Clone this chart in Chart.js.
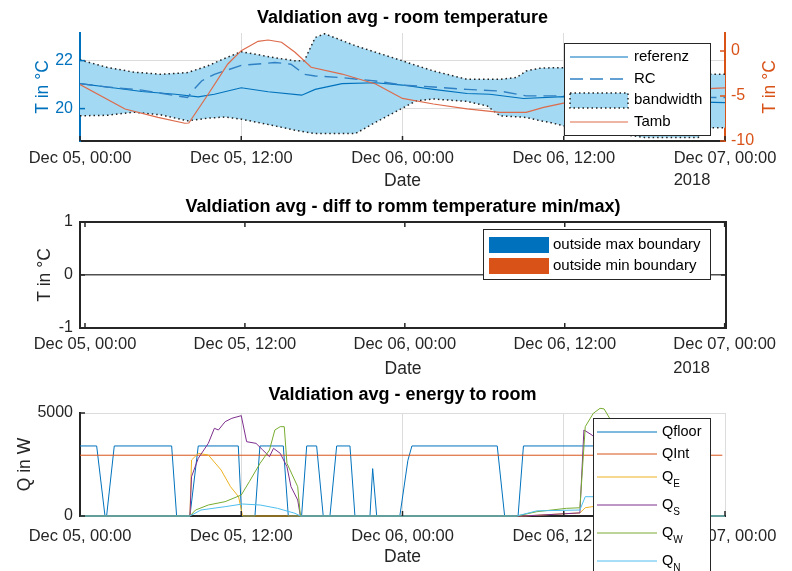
<!DOCTYPE html>
<html>
<head>
<meta charset="utf-8">
<script src="https://cdn.jsdelivr.net/npm/chart.js@4.4.1/dist/chart.umd.min.js"></script>
<style>
  html, body { margin: 0; padding: 0; background: #fff; }
  body { width: 792px; height: 571px; position: relative; overflow: hidden; }
  canvas { position: absolute; left: 0; }
</style>
</head>
<body>
<canvas id="temp" width="792" height="190" style="top:0"></canvas>
<canvas id="diff" width="792" height="190" style="top:190px"></canvas>
<canvas id="energy" width="792" height="191" style="top:380px"></canvas>
<script>
const FONT = "'Liberation Sans', Arial, Helvetica, sans-serif";
Chart.defaults.font.family = FONT;
Chart.defaults.color = '#262626';
Chart.defaults.animation = false;

// x axis: hours since Dec 05 00:00
const xTickHours = [0, 12, 24, 36, 48];
const xTickLabels = ['Dec 05, 00:00', 'Dec 05, 12:00', 'Dec 06, 00:00', 'Dec 06, 12:00', 'Dec 07, 00:00'];
const yearLabel = '2018';

// --- room temperature ---
const tempNames = ['referenz', 'RC', 'bandwidth', 'Tamb'];
const tempTicks = [20, 22];
const ambTicks = [-10, -5, 0];

const bandHours = [0, 2, 4, 6, 8, 9.5, 10.8, 12, 14.5, 16, 16.7, 17.5, 18.2, 20.5, 22, 24, 25, 26.3, 28.8, 30.3, 31.25, 32.5, 33.2, 34.2, 35, 36, 38, 40, 42, 44, 46, 47, 48];
const bandUpper = [22.03, 21.72, 21.52, 21.43, 21.5, 21.78, 22.1, 22.37, 22.12, 21.99, 22.0, 22.96, 23.12, 22.62, 22.35, 21.99, 21.8, 21.57, 21.22, 21.22, 21.22, 21.3, 21.57, 21.68, 21.7, 21.7, 21.7, 21.62, 21.55, 21.5, 21.45, 21.43, 21.43];
const bandLower = [19.7, 19.72, 19.85, 19.74, 19.49, 19.6, 19.65, 19.56, 19.28, 19.1, 19.03, 18.96, 18.96, 18.96, 19.43, 20.02, 20.32, 20.4, 20.3, 20.11, 19.7, 19.66, 19.63, 19.5, 19.42, 19.28, 19.1, 18.95, 18.8, 18.8, 18.8, 19.2, 19.2];

const refHours = [0, 2, 4.6, 7.1, 8.8, 10, 12, 14, 16.5, 17.5, 19.5, 22, 24, 26.3, 28.8, 30.5, 33, 36, 40, 44, 48];
const refTemp = [21.04, 20.9, 20.71, 20.6, 20.49, 20.6, 20.87, 20.7, 20.56, 20.8, 21.04, 21.08, 20.98, 20.8, 20.63, 20.6, 20.42, 20.5, 20.4, 20.3, 20.25];

const rcHours = [0, 2, 4.6, 8, 8.4, 9.05, 10, 12, 14.5, 15.7, 16.7, 17.5, 19.5, 22, 24, 26.3, 28.8, 31.25, 33.2, 36, 40, 44, 48];
const rcTemp = [21.04, 20.9, 20.77, 20.46, 20.75, 21.15, 21.43, 21.8, 21.92, 21.85, 21.43, 21.36, 21.29, 21.15, 20.98, 20.9, 20.8, 20.73, 20.53, 20.53, 20.5, 20.48, 20.46];

const ambHours = [0, 3.35, 5.8, 7.8, 8.1, 9.55, 11, 12, 13.25, 14, 15, 16, 17.2, 19.5, 22, 24, 26.3, 28.8, 31.25, 33.2, 34.5, 35.9, 38, 42, 45, 48];
const ambTemp = [-3.73, -6.44, -7.37, -8.03, -8.0, -4.78, -1.44, 0.04, 1.08, 1.22, 0.97, -0.14, -1.81, -2.56, -3.67, -5.27, -5.89, -6.44, -6.81, -6.81, -6.26, -5.81, -5.2, -4.6, -4.3, -4.1];

// --- diff to min/max (all zero) ---
const diffNames = ['outside max boundary', 'outside min boundary'];
const diffTicks = [-1, 0, 1];
const diffHours = [0, 2, 4, 6, 8, 10, 12, 14, 16, 18, 20, 22, 24, 26, 28, 30, 32, 34, 36, 38, 40, 42, 44, 46, 48];
const diffMax = [0, 0, 0, 0, 0, 0, 0, 0, 0, 0, 0, 0, 0, 0, 0, 0, 0, 0, 0, 0, 0, 0, 0, 0, 0];
const diffMin = [0, 0, 0, 0, 0, 0, 0, 0, 0, 0, 0, 0, 0, 0, 0, 0, 0, 0, 0, 0, 0, 0, 0, 0, 0];

// --- energy to room ---
const energyNames = ['Qfloor', 'QInt', 'Q_E', 'Q_S', 'Q_W', 'Q_N'];
const energyTicks = [0, 5000];

const floorHours = [0, 1.24, 1.86, 1.98, 2.55, 6.82, 7.19, 8.18, 8.8, 11.78, 12.03, 13.02, 13.39, 15.13, 15.5, 16.49, 16.87, 17.61, 18.1, 18.6, 19.1, 20.09, 20.46, 21.58, 21.78, 22.08, 23.8, 24.4, 24.7, 31.05, 31.6, 32.6, 33.0, 43.8, 44.3, 48];
const floorQ = [3400, 3400, 0, 0, 3400, 3400, 0, 0, 3400, 3400, 0, 0, 3400, 3400, 0, 0, 3400, 3400, 0, 0, 3400, 3400, 0, 0, 2300, 0, 0, 2700, 3400, 3400, 0, 0, 3400, 3400, 0, 0];

const intHours = [0, 47.8];
const intQ = [2950, 2950];

const eastHours = [0, 8.18, 8.3, 8.8, 9.55, 10.5, 11.2, 11.8, 12.1, 33, 37.2, 37.6, 38.6, 40, 42, 48];
const eastQ = [0, 0, 2718, 3040, 2961, 2233, 1424, 937, 0, 0, 150, 400, 500, 300, 0, 0];

const southHours = [0, 8.18, 8.3, 8.8, 9.55, 10.0, 10.3, 10.8, 11.3, 12.0, 12.4, 13.1, 13.6, 14.1, 14.4, 14.9, 15.4, 15.7, 16.2, 16.4, 33.0, 37.2, 37.5, 38.1, 39.5, 41, 43, 48];
const southQ = [0, 0, 1908, 2800, 3529, 4257, 4175, 4578, 4743, 4870, 3607, 3527, 3204, 2880, 3285, 3042, 2395, 1424, 777, 0, 0, 150, 4175, 3930, 3000, 1500, 0, 0];

const westHours = [0, 8.18, 8.6, 9.55, 10.8, 12.0, 12.6, 13.4, 14.1, 14.5, 14.9, 15.2, 15.4, 16.2, 16.4, 32.5, 34.0, 36.2, 37.2, 37.6, 38.2, 38.7, 39.0, 41, 43, 48];
const westQ = [0, 0, 291, 534, 696, 1019, 1666, 2557, 3204, 4175, 4337, 4337, 2557, 1424, 0, 0, 210, 372, 400, 4337, 4985, 5227, 5200, 3000, 0, 0];

const northHours = [0, 8.18, 9, 10.8, 12.1, 13.4, 14.7, 16, 16.4, 32.5, 34, 37.2, 37.6, 38.2, 40, 43, 48];
const northQ = [0, 0, 291, 453, 582, 534, 372, 129, 0, 0, 250, 291, 937, 937, 600, 0, 0];

// colours (matlab default order)
const BLUE = '#0072BD', ORANGE = '#D95319', YELLOW = '#EDB120', PURPLE = '#7E2F8E', GREEN = '#77AC30', CYAN = '#4DBEEE';
const BAND = '#a3d9f2';
const GRID = '#dcdcdc';
const INK = '#262626';

const pts = (xs, ys) => xs.map((x, i) => ({ x, y: ys[i] }));
const fixW = w => s => { s.width = w; };
const fixH = h => s => { s.height = h; };
const setTicks = vals => s => { s.ticks = vals.map(v => ({ value: v })); };
const xLabel = v => xTickLabels[xTickHours.indexOf(v)];
const plain = v => String(v);

// ticks pointing into the plot, like matlab
const innerTicks = {
    id: 'innerTicks',
    afterDatasetsDraw(chart, args, o) {
        if (!o.items) return;
        const { ctx, chartArea: a } = chart;
        ctx.save();
        ctx.lineWidth = 1.5;
        o.items.forEach(it => {
            const s = chart.scales[it.scale];
            ctx.strokeStyle = it.color || INK;
            s.ticks.forEach(t => {
                const p = s.getPixelForValue(t.value);
                ctx.beginPath();
                if (it.side === 'bottom') { ctx.moveTo(p, a.bottom); ctx.lineTo(p, a.bottom - o.len); }
                if (it.side === 'top') { ctx.moveTo(p, a.top); ctx.lineTo(p, a.top + o.len); }
                if (it.side === 'left') { ctx.moveTo(a.left, p); ctx.lineTo(a.left + o.len, p); }
                if (it.side === 'right') { ctx.moveTo(a.right, p); ctx.lineTo(a.right - o.len, p); }
                ctx.stroke();
            });
        });
        if (o.frame) {
            ctx.strokeStyle = INK;
            ctx.lineWidth = 2;
            ctx.beginPath();
            ctx.moveTo(a.left, a.top); ctx.lineTo(a.right, a.top); ctx.lineTo(a.right, a.bottom);
            ctx.stroke();
        }
        ctx.restore();
    }
};

// year under the last date label, left aligned with it
const yearTag = {
    id: 'yearTag',
    afterDraw(chart, args, o) {
        if (!o.text) return;
        const s = chart.scales.x, ctx = chart.ctx;
        ctx.save();
        ctx.font = o.font;
        const w = ctx.measureText(xTickLabels[xTickLabels.length - 1]).width;
        ctx.fillStyle = INK;
        ctx.textAlign = 'left';
        ctx.textBaseline = 'middle';
        ctx.fillText(o.text, s.getPixelForValue(xTickHours[xTickHours.length - 1]) - w / 2, o.y);
        ctx.restore();
    }
};

// right y label reading bottom to top
const sideTitle = {
    id: 'sideTitle',
    afterDraw(chart, args, o) {
        if (!o.text) return;
        const ctx = chart.ctx;
        ctx.save();
        ctx.translate(o.x, o.y);
        ctx.rotate(-Math.PI / 2);
        ctx.font = o.font;
        ctx.fillStyle = o.color;
        ctx.textAlign = 'center';
        ctx.textBaseline = 'middle';
        ctx.fillText(o.text, 0, 0);
        ctx.restore();
    }
};

// boxed legend inside the axes
const boxLegend = {
    id: 'boxLegend',
    afterDraw(chart, args, o) {
        if (!o.items) return;
        const ctx = chart.ctx;
        ctx.save();
        ctx.fillStyle = '#fff';
        ctx.fillRect(o.x, o.y, o.w, o.h);
        ctx.strokeStyle = INK;
        ctx.lineWidth = 1;
        ctx.strokeRect(o.x + 0.5, o.y + 0.5, o.w, o.h);
        o.items.forEach((it, i) => {
            const y = o.rows[i];
            if (it.kind === 'patch') {
                ctx.fillStyle = it.color;
                ctx.fillRect(o.sampleX, y - 8, o.sampleW, 16);
            } else if (it.kind === 'band') {
                ctx.fillStyle = it.fill;
                ctx.fillRect(o.sampleX, y - 7, o.sampleW, 15);
                ctx.setLineDash(it.dash);
                ctx.strokeStyle = it.color;
                ctx.lineWidth = 1.5;
                ctx.strokeRect(o.sampleX, y - 7, o.sampleW, 15);
                ctx.setLineDash([]);
            } else {
                ctx.setLineDash(it.dash || []);
                ctx.strokeStyle = it.color;
                ctx.lineWidth = it.width || 1;
                ctx.beginPath();
                ctx.moveTo(o.sampleX, y); ctx.lineTo(o.sampleX + o.sampleW, y);
                ctx.stroke();
                ctx.setLineDash([]);
            }
            const [main, sub] = it.text.split('_');
            ctx.font = o.font;
            ctx.fillStyle = '#000';
            ctx.textAlign = 'left';
            ctx.textBaseline = 'middle';
            ctx.fillText(main, o.textX, y);
            if (sub) {
                const w = ctx.measureText(main).width;
                ctx.font = o.subFont;
                ctx.fillText(sub, o.textX + w, y + 7);
            }
        });
        ctx.restore();
    }
};

const xAxis = (min, max, h, pad, titlePad) => ({
    type: 'linear', min, max,
    afterBuildTicks: setTicks(xTickHours),
    afterFit: fixH(h),
    ticks: { font: { size: 16.5 }, padding: pad, maxRotation: 0, autoSkip: false, callback: xLabel },
    grid: { color: GRID, drawTicks: false },
    border: { color: INK, width: 2 },
    title: { display: true, text: 'Date', font: { size: 17.5 }, padding: { top: 0, bottom: titlePad } }
});

const titleOpts = (text, top, bottom) => ({
    display: true, text, color: '#000', fullSize: false,
    font: { size: 18, weight: 'bold' }, padding: { top, bottom }
});

// ---------- chart 1: room temperature ----------
new Chart(document.getElementById('temp'), {
    type: 'line',
    data: {
        datasets: [
            { label: tempNames[0], data: pts(refHours, refTemp), yAxisID: 'y', borderColor: BLUE, borderWidth: 1.1, order: 2 },
            { label: tempNames[1], data: pts(rcHours, rcTemp), yAxisID: 'y', borderColor: '#2f80c4', borderWidth: 1.4, borderDash: [13, 7], order: 1 },
            { label: tempNames[2], data: pts(bandHours, bandUpper), yAxisID: 'y', borderColor: '#222', borderWidth: 1.5, borderDash: [1.5, 3], backgroundColor: BAND, fill: '+1', order: 5 },
            { label: tempNames[2] + ' min', data: pts(bandHours, bandLower), yAxisID: 'y', borderColor: '#222', borderWidth: 1.5, borderDash: [1.5, 3], fill: false, order: 4 },
            { label: tempNames[3], data: pts(ambHours, ambTemp), yAxisID: 'y1', borderColor: '#dd6a4a', borderWidth: 1.2, order: 0 }
        ]
    },
    options: {
        responsive: false,
        events: [],
        elements: { point: { radius: 0 }, line: { tension: 0 } },
        layout: { padding: 0 },
        scales: {
            x: xAxis(0, 48, 49, 8, -2),
            y: {
                position: 'left', min: 18.65, max: 23.15,
                afterBuildTicks: setTicks(tempTicks), afterFit: fixW(80),
                ticks: { color: BLUE, font: { size: 16 }, padding: 7, callback: plain },
                grid: { color: GRID, drawTicks: false },
                border: { color: BLUE, width: 2 },
                title: { display: true, text: 'T in °C', color: BLUE, font: { size: 17.5 }, padding: { top: 32.5, bottom: 0 } }
            },
            y1: {
                position: 'right', min: -10, max: 2,
                afterBuildTicks: setTicks(ambTicks), afterFit: fixW(67),
                ticks: { color: ORANGE, font: { size: 16 }, padding: 6, callback: plain },
                grid: { display: false, drawTicks: false },
                border: { color: ORANGE, width: 2 }
            }
        },
        plugins: {
            legend: { display: false },
            tooltip: { enabled: false },
            title: titleOpts('Valdiation avg - room temperature', 7.7, 3.7),
            innerTicks: { len: 5, items: [
                { scale: 'x', side: 'bottom' },
                { scale: 'y', side: 'left', color: BLUE },
                { scale: 'y1', side: 'right', color: ORANGE }
            ] },
            yearTag: { text: yearLabel, y: 180, font: '16.5px ' + FONT },
            sideTitle: { text: 'T in °C', x: 770, y: 87, color: ORANGE, font: '17.5px ' + FONT },
            boxLegend: {
                x: 564, y: 43, w: 146, h: 92, rows: [57, 79, 100, 122],
                sampleX: 570, sampleW: 58, textX: 634, font: '15px ' + FONT,
                items: [
                    { text: tempNames[0], color: BLUE, width: 1.1 },
                    { text: tempNames[1], color: '#2f80c4', width: 1.4, dash: [13, 7] },
                    { text: tempNames[2], kind: 'band', fill: BAND, color: '#222', dash: [1.5, 3] },
                    { text: tempNames[3], color: '#dd6a4a', width: 1.2 }
                ]
            }
        }
    },
    plugins: [innerTicks, yearTag, sideTitle, boxLegend]
});

// ---------- chart 2: diff to min/max ----------
new Chart(document.getElementById('diff'), {
    type: 'bar',
    data: {
        datasets: [
            { label: diffNames[0], data: pts(diffHours, diffMax), backgroundColor: BLUE },
            { label: diffNames[1], data: pts(diffHours, diffMin), backgroundColor: ORANGE }
        ]
    },
    options: {
        responsive: false,
        events: [],
        layout: { padding: { right: 66 } },
        scales: {
            x: Object.assign(xAxis(-0.375, 48.1, 52, 7, 0.5), { offset: false, grid: { display: false, offset: false, drawTicks: false } }),
            y: {
                min: -1, max: 1,
                afterBuildTicks: setTicks(diffTicks), afterFit: fixW(80),
                ticks: { font: { size: 16 }, padding: 7, callback: plain },
                grid: { drawTicks: false, lineWidth: 1.5, color: c => c.tick && c.tick.value === 0 ? '#505050' : 'rgba(0,0,0,0)' },
                border: { color: INK, width: 2 },
                title: { display: true, text: 'T in °C', font: { size: 17.5 }, padding: { top: 34.5, bottom: 0 } }
            }
        },
        plugins: {
            legend: { display: false },
            tooltip: { enabled: false },
            title: titleOpts('Valdiation avg - diff to romm temperature min/max)', 6.2, 4.2),
            innerTicks: { len: 5, frame: true, items: [
                { scale: 'x', side: 'bottom' }, { scale: 'x', side: 'top' },
                { scale: 'y', side: 'left' }, { scale: 'y', side: 'right' }
            ] },
            yearTag: { text: yearLabel, y: 178, font: '16.5px ' + FONT },
            boxLegend: {
                x: 483, y: 39, w: 227, h: 50, rows: [55, 76],
                sampleX: 489, sampleW: 60, textX: 553, font: '15px ' + FONT,
                items: [
                    { text: diffNames[0], kind: 'patch', color: BLUE },
                    { text: diffNames[1], kind: 'patch', color: ORANGE }
                ]
            }
        }
    },
    plugins: [innerTicks, yearTag, boxLegend]
});

// ---------- chart 3: energy to room ----------
const energySeries = [
    [floorHours, floorQ, BLUE],
    [intHours, intQ, ORANGE],
    [eastHours, eastQ, YELLOW],
    [southHours, southQ, PURPLE],
    [westHours, westQ, GREEN],
    [northHours, northQ, CYAN]
];

new Chart(document.getElementById('energy'), {
    type: 'line',
    data: {
        datasets: energySeries.map(([h, q, c], i) => ({
            label: energyNames[i], data: pts(h, q), borderColor: c, borderWidth: 1, order: 6 - i, clip: false
        }))
    },
    options: {
        responsive: false,
        events: [],
        elements: { point: { radius: 0 }, line: { tension: 0 } },
        layout: { padding: { right: 67 } },
        scales: {
            x: xAxis(0, 48, 55, 11, 3.5),
            y: {
                min: 0, max: 5000,
                afterBuildTicks: setTicks(energyTicks), afterFit: fixW(80),
                ticks: { font: { size: 16 }, padding: 7, callback: plain },
                grid: { color: GRID, drawTicks: false },
                border: { color: INK, width: 2 },
                title: { display: true, text: 'Q in W', font: { size: 17.5 }, padding: { top: 14.5, bottom: 0 } }
            }
        },
        plugins: {
            legend: { display: false },
            tooltip: { enabled: false },
            title: titleOpts('Valdiation avg - energy to room', 4.2, 7.2),
            innerTicks: { len: 5, items: [{ scale: 'x', side: 'bottom' }, { scale: 'y', side: 'left' }] },
            yearTag: { text: yearLabel, y: 176, font: '16.5px ' + FONT },
            boxLegend: {
                x: 593, y: 38, w: 117, h: 200, rows: [52, 74, 97, 125, 153, 181],
                sampleX: 597, sampleW: 60, textX: 662, font: '14.5px ' + FONT, subFont: '10px ' + FONT,
                items: energyNames.map((n, i) => ({ text: n, color: energySeries[i][2] }))
            }
        }
    },
    plugins: [innerTicks, yearTag, boxLegend]
});
</script>
</body>
</html>
